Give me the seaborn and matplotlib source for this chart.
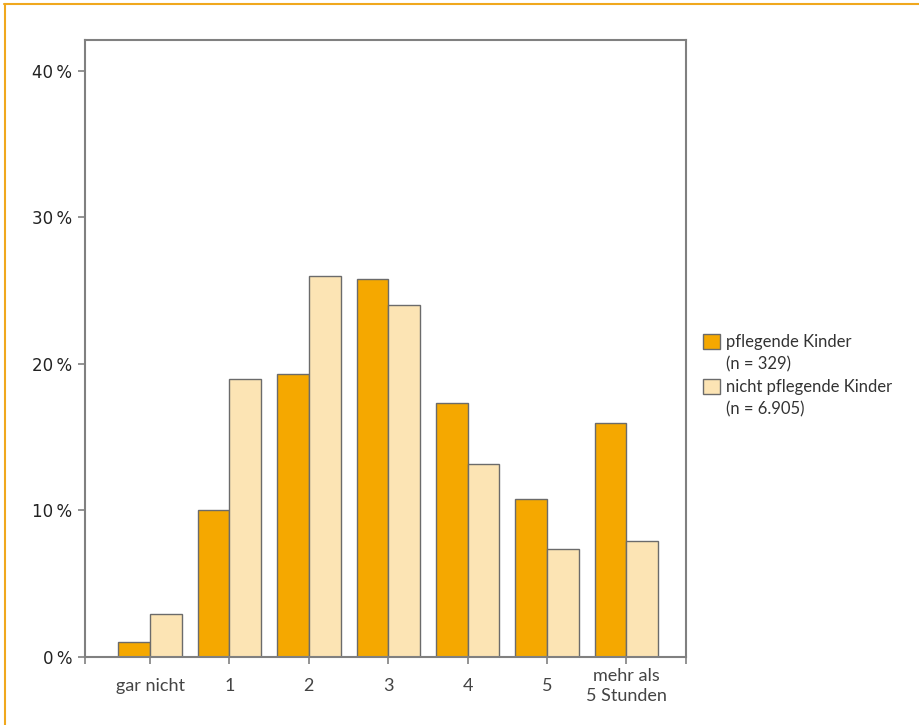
import matplotlib
matplotlib.use("Agg")
import matplotlib.pyplot as plt
import seaborn as sns
import pandas as pd
from matplotlib.lines import Line2D
from matplotlib.patches import Patch
from matplotlib.ticker import FixedLocator, FuncFormatter

categories = ["gar nicht", "1", "2", "3", "4", "5", "mehr als\n5 Stunden"]
pflegende = [1.0, 10.0, 19.3, 25.8, 17.3, 10.8, 16.0]
nicht_pflegende = [2.9, 19.0, 26.0, 24.0, 13.2, 7.4, 7.9]
series_names = ["pflegende Kinder", "nicht pflegende Kinder"]
sample_sizes = ["(n = 329)", "(n = 6.905)"]
y_ticks = [0, 10, 20, 30, 40]

df = pd.DataFrame({
    "Kategorie": categories * 2,
    "Anteil": pflegende + nicht_pflegende,
    "Gruppe": [series_names[0]] * len(categories) + [series_names[1]] * len(categories),
})

sns.set_style("white")
plt.rcParams["font.family"] = ["Lato", "DejaVu Sans"]

W, H = 919, 725
fig = plt.figure(figsize=(W / 100, H / 100), dpi=100)
ax = fig.add_axes([85 / W, (H - 657) / H, 601 / W, 617 / H])

colors = ["#F5A800", "#FCE4B4"]
palette = dict(zip(series_names, colors))
sns.barplot(data=df, x="Kategorie", y="Anteil", hue="Gruppe", order=categories,
            hue_order=series_names, palette=palette, width=0.8, saturation=1,
            edgecolor="#6b6b6b", linewidth=1.0, ax=ax, legend=False)

ax.set_xlim(-0.82, 6.75)
ax.set_ylim(0, 42.1)
ax.set_xlabel("")
ax.set_ylabel("")

spine_col = "#808080"
for s in ax.spines.values():
    s.set_visible(True)
    s.set_color(spine_col)
    s.set_linewidth(1.5)

ax.yaxis.set_major_locator(FixedLocator(y_ticks))
ax.yaxis.set_major_formatter(FuncFormatter(lambda v, p: f"{int(v)}\u2009%"))
ax.tick_params(axis="y", direction="out", length=5, width=1.2, color=spine_col,
               labelsize=12, pad=4, left=True)
for lab in ax.get_yticklabels():
    lab.set_fontfamily("DejaVu Sans")
    lab.set_color("#222222")

ax.set_xticks(range(len(categories)))
ax.set_xticklabels(categories)
ax.set_xticks([-0.82, 6.75], minor=True)
ax.tick_params(axis="x", which="major", direction="out", length=5, width=1.2,
               color=spine_col, labelsize=13, pad=16, bottom=True)
ax.tick_params(axis="x", which="minor", direction="out", length=5, width=1.2,
               color=spine_col, bottom=True)
for lab in ax.get_xticklabels():
    lab.set_color("#444444")
    lab.set_linespacing(1.35)
    lab.set_verticalalignment("center")

handles = []
labels = []
for name, n, c in zip(series_names, sample_sizes, colors):
    handles.append(Patch(facecolor=c, edgecolor="#6b6b6b", linewidth=1.0))
    labels.append(name)
    handles.append(Patch(facecolor="none", edgecolor="none"))
    labels.append(n)
leg = ax.legend(handles, labels, loc="upper left", bbox_to_anchor=(703 / W, 1 - 334 / H),
                bbox_transform=fig.transFigure, frameon=False, fontsize=12,
                handlelength=1.0, handleheight=1.0, handletextpad=0.4, labelspacing=0.37,
                borderaxespad=0, borderpad=0)
for t in leg.get_texts():
    t.set_color("#333333")

border = "#F0A81E"
fig.add_artist(Line2D([4 / W, 1], [1 - 4 / H, 1 - 4 / H], color=border, lw=1.5,
                      transform=fig.transFigure))
fig.add_artist(Line2D([5 / W, 5 / W], [0, 1 - 4 / H], color=border, lw=1.5,
                      transform=fig.transFigure))

fig.savefig("out.png", dpi=100)
